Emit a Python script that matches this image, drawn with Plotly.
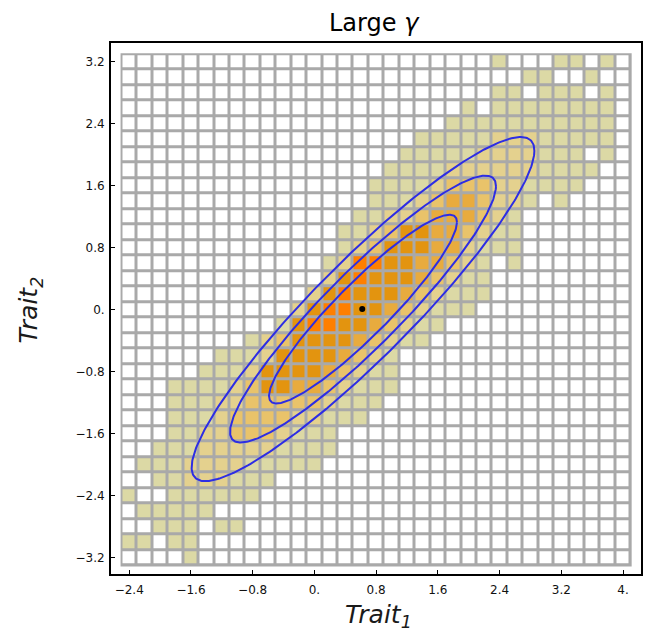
import numpy as np
import plotly.graph_objects as go

# ---- data ----
# bin centres (bin width 0.2)
x_centers = [-2.4, -2.2, -2.0, -1.8, -1.6, -1.4, -1.2, -1.0, -0.8, -0.6, -0.4, -0.2,
             0.0, 0.2, 0.4, 0.6, 0.8, 1.0, 1.2, 1.4, 1.6, 1.8, 2.0, 2.2, 2.4, 2.6,
             2.8, 3.0, 3.2, 3.4, 3.6, 3.8, 4.0]
y_centers = [3.2, 3.0, 2.8, 2.6, 2.4, 2.2, 2.0, 1.8, 1.6, 1.4, 1.2, 1.0, 0.8, 0.6,
             0.4, 0.2, 0.0, -0.2, -0.4, -0.6, -0.8, -1.0, -1.2, -1.4, -1.6, -1.8,
             -2.0, -2.2, -2.4, -2.6, -2.8, -3.0, -3.2]

# density level of every cell (0 = empty ... 6 = highest), one string per row, top row first
level_rows = [
    "000000000000000000000000100011010",
    "000000000000000000000000001100100",
    "000000000000000000000000110111010",
    "000000000000000000000010111111110",
    "000000000000000000000111111111110",
    "000000000000000000011111222111110",
    "000000000000000000111112222111010",
    "000000000000000001111222222111100",
    "000000000000000011112333221111000",
    "000000000000000011123443221010000",
    "000000000000000112234443210000000",
    "000000000000001123554432110000000",
    "000000000000001235554421110000000",
    "000000000000012665544321010000000",
    "000000000000025655543211000000000",
    "000000000000256555432111000000000",
    "000000000002566554321110000000000",
    "000000000015665543211000000000000",
    "000000001235555432110000000000000",
    "000000111255554321000000000000000",
    "000001112555543211000000000000000",
    "000111123554432111000000000000000",
    "000111223333321110000000000000000",
    "000111233332211100000000000000000",
    "000112233321110000000000000000000",
    "001112222211110000000000000000000",
    "011122221111100000000000000000000",
    "001122211100000000000000000000000",
    "100111111000000000000000000000000",
    "011111000000000000000000000000000",
    "001110110000000000000000000000000",
    "110110000000000000000000000000000",
    "000010000000000000000000000000000",
]
level_colors = ["#ffffff", "#dcd9a5", "#e4d18e", "#e9c36a", "#e8ab3e", "#e3940f", "#ff7f00"]

# contour ellipses
ell_center = (0.63, 0.01)
ell_sigma = 1.035
ell_rho = 0.92
ell_radii = [1.177, 1.665, 2.146]

# mean point
mean_x = [0.62]
mean_y = [0.01]

x_tickvals = [-2.4, -1.6, -0.8, 0.0, 0.8, 1.6, 2.4, 3.2, 4.0]
x_ticktext = ["\u22122.4", "\u22121.6", "\u22120.8", "0.", "0.8", "1.6", "2.4", "3.2", "4."]
y_tickvals = [-3.2, -2.4, -1.6, -0.8, 0.0, 0.8, 1.6, 2.4, 3.2]
y_ticktext = ["\u22123.2", "\u22122.4", "\u22121.6", "\u22120.8", "0.", "0.8", "1.6", "2.4", "3.2"]

# ---- figure ----
z = [[int(c) for c in row] for row in level_rows]
nlev = len(level_colors) - 1
colorscale = [[k / nlev, c] for k, c in enumerate(level_colors)]

fig = go.Figure()

fig.add_trace(go.Heatmap(
    x=x_centers, y=y_centers, z=z,
    colorscale=colorscale, zmin=0, zmax=nlev, showscale=False,
    xgap=3, ygap=3, hoverinfo="skip"))

half = 0.1
fig.add_shape(type="rect", layer="below",
              x0=x_centers[0] - half - 0.012, x1=x_centers[-1] + half + 0.012,
              y0=y_centers[-1] - half - 0.012, y1=y_centers[0] + half + 0.012,
              fillcolor="#a9a9a9", line=dict(width=0))

t = np.linspace(0, 2 * np.pi, 361)
cx, cy = ell_center
for r in ell_radii:
    ex = cx + r * ell_sigma * np.cos(t)
    ey = cy + r * ell_sigma * (ell_rho * np.cos(t) + np.sqrt(1 - ell_rho ** 2) * np.sin(t))
    fig.add_trace(go.Scatter(x=ex, y=ey, mode="lines",
                             line=dict(color="rgb(45,45,228)", width=2),
                             hoverinfo="skip", showlegend=False))

fig.add_trace(go.Scatter(x=mean_x, y=mean_y, mode="markers",
                         marker=dict(color="black", size=6),
                         hoverinfo="skip", showlegend=False))

tickfont = dict(family="DejaVu Sans", size=12, color="#111111")
axis_common = dict(showgrid=False, zeroline=False, showline=True, linecolor="black",
                   linewidth=2, mirror=True, ticks="inside", ticklen=4, tickwidth=1.2,
                   tickcolor="black", tickfont=tickfont)

fig.update_layout(
    width=649, height=632,
    margin=dict(l=111, r=6, t=43, b=58),
    plot_bgcolor="white", paper_bgcolor="white",
    showlegend=False,
    xaxis=dict(range=[-2.636, 4.233], tickvals=x_tickvals, ticktext=x_ticktext,
               ticklabelstandoff=4, **axis_common),
    yaxis=dict(range=[-3.41, 3.445], tickvals=y_tickvals, ticktext=y_ticktext,
               ticklabelstandoff=2, **axis_common),
    annotations=[
        dict(text="Large <i>\u03b3</i>", xref="paper", yref="paper",
             x=0.498, y=1.0375, xanchor="center", yanchor="middle", showarrow=False,
             font=dict(family="DejaVu Sans", size=24, color="black")),
        dict(text="<i>Trait<sub>1</sub></i>", xref="paper", yref="paper",
             x=0.5056, y=-0.079, xanchor="center", yanchor="middle", showarrow=False,
             font=dict(family="DejaVu Sans", size=25, color="#1a1a1a")),
        dict(text="<i>Trait<sub>2</sub></i>", xref="paper", yref="paper",
             x=-0.152, y=0.497, xanchor="center", yanchor="middle", showarrow=False,
             textangle=-90,
             font=dict(family="DejaVu Sans", size=25, color="#1a1a1a")),
    ],
)

fig.write_html("out.html")
